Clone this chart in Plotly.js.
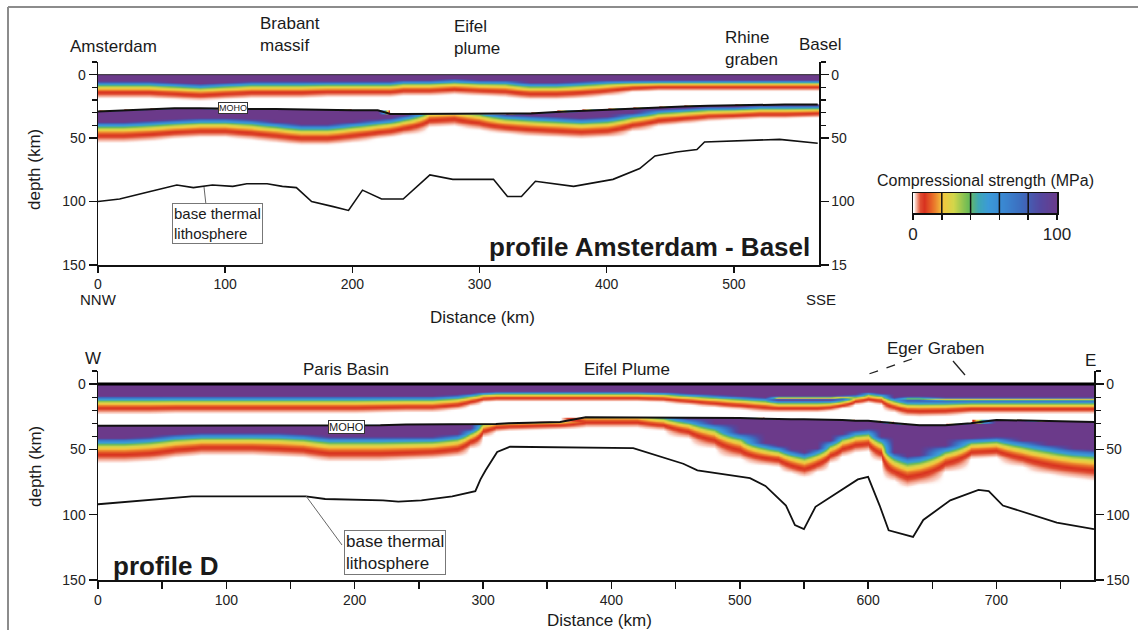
<!DOCTYPE html>
<html>
<head>
<meta charset="utf-8">
<script src="https://cdn.plot.ly/plotly-3.0.1.min.js"></script>
<style>html,body{margin:0;padding:0;background:#fff;}#chart{width:1138px;height:630px;}</style>
</head>
<body>
<div id="chart"></div>
<script>
// ---------- DATA ----------
// Profile Amsterdam - Basel : nodes along the profile (km)
const topDist = [0,20,40,60,80,100,120,140,160,180,200,220,230,240,260,280,300,320,340,360,380,400,420,440,460,480,500,520,540,566];
// depth (km) where the strong (purple) upper-crust layer ends, and where crustal strength fades to zero
const topCrustStrongBase = [5,5,5,6,7,6,5,5,5,5,5,5,5,4,4,3,4,4,6,6,5,4,4,4,4,4,4,4,4,4];
const topCrustZero = [19,19,19,20,21,20,19,19,19,18,18,18,18,17,17,16,17,18,20,20,19,17,14,13,13,13,13,13,13,13];
// Moho depth (km)
const topMoho = [29,28,27,26.5,26.5,27,27,27,27.5,27.5,28,28,31,31,31,31,31,31,30.5,29.5,28.5,27.5,26.5,25.5,25,24.5,24,23.5,23.5,23.5];
// mantle: base of the strong (purple) part and depth of zero strength (km)
const topMantleStrongBase = [37,37,36,35,34,34,35,37,39,39,37,35,34,32,25,24,27,31,32,33,34,33,30,27,26,25,25,24,24,24];
const topMantleZero = [54,54,53,51,50,50,52,54,56,56,54,51,50,48,42,41,44,47,49,50,51,50,45,41,39,37,36,35,35,34];
// base thermal lithosphere
const topLithDist = [0,17,41,62,75,90,106,117,133,145,156,168,185,197,208,223,240,261,279,311,322,333,344,374,405,426,438,455,471,477,536,566];
const topLithDepth = [100,98,92,87,89,87,88,86,86,88,89,100,104,107,91,98,98,79,82.5,82.5,96,96,84,88,82.5,74,64,61,59,53,51,54];

// Profile D
const botDist = [0,20,40,60,80,100,120,140,160,180,200,220,240,260,280,290,300,310,320,340,360,380,400,420,440,460,480,500,520,530,540,550,560,570,580,590,600,610,620,630,640,660,680,700,720,740,760,776];
const botCrustStrongBase = [9,9,9,9,9,9,9,9,9,9,9,9,9,9,8,7,6,5.5,5.5,5.5,5.5,5.5,5.5,5.5,6,7,8,9,10,12,12,12,12,12,11,8,6,7,10,12,12,12,12,12,12,12,12,12];
const botCrustZero = [23.5,23.5,23.5,23,23,23,23,23,23,23,23,22.5,22,22,20,17,14,13.5,13.5,13.5,13.5,13.5,13.5,13.5,14,16,18,20,22,22,22,22,22,21,19,16,14.5,16,22,25,25.5,25,23,23,23,23,23,23];
// depth of a thin weak stripe inside the strong upper crust (Eger Graben), null where absent
const botCrustWeakStripe = [null,null,null,null,null,null,null,null,null,null,null,null,null,null,null,null,null,null,null,null,null,null,null,null,null,null,null,null,null,10.5,10.5,10.5,10.5,10.5,10,null,null,null,null,11,11,11.5,11.5,11.5,11.5,11.5,11.5,11.5];
const botMoho = [32,32,32,32,32,32,32,32,32,32,32,31.5,31,31,31,31,30.5,30.5,30,29.5,29,25.5,25.5,25.5,25.5,26,26,26,26.5,27,27,27,27,27.5,27.5,28,28,29,30,31,31.5,31.5,30,27.5,28,28.5,29,29];
const botMantleStrongBase = [41,41,40,38,37,37,37,37,38,40,40,40,40,40,38,34,27,26,26,25.5,25,20,20,20,23,26,30,37,45,47,50,52,49,43,38,35,34,40,52,55,54,47,41,40,43,46,49,50];
const botMantleZero = [61,61,60,57,55,55,55,56,57,60,60,60,59,58,56,50,41,37,36,35.5,35,34,34,34,36,42,50,58,63,64,69,72,68,61,56,53,52,60,75,80,78,68,58,57,64,70,73,75];
const botLithDist = [0,49,73,103,162,177,222,234,252,276,294,298,302,311,321,417,456,467,492,508,520,536,543,550,559,592,600,609,616,635,643,664,686,694,705,725,747,776];
const botLithDepth = [92,88,86,86,86,88,89,90,89,86,82,73,66,52,48,49,61,66,70,72,78,93,108,111,94,73,71,93,112,117,104,89,81,82,93,99,106,111];

// Colour scale of the legend (MPa)
const legendScale = [0,5,10,15,20,25,30,35,40,45,50,55,60,65,70,75,80,85,90,95,100];
const legendTicks = [0,20,40,60,80,100];
const legendTickText = ['0','','','','','100'];

// ---------- helpers ----------
const W = 1138, H = 630;
const PX = x => x / W, PY = y => 1 - y / H;
const FONT = '"Liberation Sans", Arial, Helvetica, sans-serif';

const depthGrid = [];
for (let d = 0; d <= 90; d += 0.5) depthGrid.push(d);

const K = Math.log(103 / 3);
function decay(z, base, zero) {
  if (z <= base) return 100;
  const v = 103 * Math.exp(-K * (z - base) / (zero - base)) - 3;
  return v > 0 ? v : 0;
}
function buildGrid(cb, cz, moho, mb, mz, stripe) {
  return depthGrid.map(z => cb.map((_, i) => {
    if (z >= moho[i]) return decay(z, mb[i], mz[i]);
    let v = decay(z, cb[i], cz[i]);
    if (stripe && stripe[i] !== null) {
      const t = (z - stripe[i]) / 0.9;
      v = v * (1 - 0.8 * Math.exp(-t * t));
    }
    return v;
  }));
}

const CS = [
  [0, 'rgba(255,255,255,0)'],
  [0.012, 'rgba(248,196,182,0.75)'],
  [0.03, '#ee927a'],
  [0.05, '#df4c31'],
  [0.08, '#d8321f'],
  [0.13, '#e86a28'],
  [0.2, '#f3c63e'],
  [0.28, '#d3d64a'],
  [0.38, '#6dbb55'],
  [0.45, '#3ea7b4'],
  [0.52, '#3b9ad8'],
  [0.62, '#3a88d2'],
  [0.75, '#3c6cbe'],
  [0.88, '#5448a0'],
  [1, '#6b3a8a']
];

const traces = [
  {type:'heatmap', x: topDist, y: depthGrid,
   z: buildGrid(topCrustStrongBase, topCrustZero, topMoho, topMantleStrongBase, topMantleZero, null),
   xaxis:'x', yaxis:'y', colorscale: CS, zmin:0, zmax:100, zsmooth:'best', showscale:false, hoverinfo:'skip'},
  {type:'heatmap', x: botDist, y: depthGrid,
   z: buildGrid(botCrustStrongBase, botCrustZero, botMoho, botMantleStrongBase, botMantleZero, botCrustWeakStripe),
   xaxis:'x2', yaxis:'y2', colorscale: CS, zmin:0, zmax:100, zsmooth:'best', showscale:false, hoverinfo:'skip'},
  {type:'scatter', mode:'lines', x: topDist, y: topMoho, xaxis:'x', yaxis:'y', line:{color:'#111', width:2}, hoverinfo:'skip'},
  {type:'scatter', mode:'lines', x: topLithDist, y: topLithDepth, xaxis:'x', yaxis:'y3', line:{color:'#111', width:1.6}, hoverinfo:'skip'},
  {type:'scatter', mode:'lines', x: botDist, y: botMoho, xaxis:'x2', yaxis:'y2', line:{color:'#111', width:2}, hoverinfo:'skip'},
  {type:'scatter', mode:'lines', x: botLithDist, y: botLithDepth, xaxis:'x2', yaxis:'y4', line:{color:'#111', width:1.8}, hoverinfo:'skip'},
  {type:'heatmap', x: legendScale, y: [0, 1], z: [legendScale, legendScale],
   xaxis:'x3', yaxis:'y5', colorscale: CS, zmin:0, zmax:100, zsmooth:'best', showscale:false, hoverinfo:'skip'}
];

const tickFont = {family: FONT, size: 14, color: '#222'};
const baseAx = {showline:true, linecolor:'#111', linewidth:1.5, ticks:'outside', tickcolor:'#111', tickwidth:1.5,
  showgrid:false, zeroline:false, tickfont: tickFont, fixedrange:true};
function yAx(domain, anchor, extra) {
  const a = Object.assign({}, baseAx, {anchor, range:[150,-10], tickmode:'array', tickvals:[0,50,100,150], ticklen:8,
    minor:{tickmode:'array', tickvals:[-10,10,20,30,40], ticklen:5, tickwidth:1.2, tickcolor:'#111', ticks:'outside'}}, extra || {});
  if (domain) a.domain = domain;
  return a;
}

const layout = {
  width: W, height: H, margin:{l:0,r:0,t:0,b:0}, paper_bgcolor:'#fff', plot_bgcolor:'rgba(0,0,0,0)',
  showlegend:false, font:{family: FONT, color:'#222'},
  xaxis: Object.assign({}, baseAx, {domain:[PX(98), PX(819)], anchor:'y', range:[0,567], tickmode:'array',
    tickvals:[0,100,200,300,400,500], ticklen:6}),
  yaxis: yAx([PY(265), PY(62)], 'x'),
  yaxis3: yAx(null, 'x', {overlaying:'y', side:'right', ticktext:['0','50','100','15']}),
  xaxis2: Object.assign({}, baseAx, {domain:[PX(98), PX(1094)], anchor:'y2', range:[0,776], tickmode:'array',
    tickvals:[0,100,200,300,400,500,600,700], ticklen:7,
    minor:{tickmode:'array', tickvals:[50,150,250,350,450,550,650,750], ticklen:7, tickwidth:1.5, tickcolor:'#111', ticks:'outside'}}),
  yaxis2: yAx([PY(580), PY(371)], 'x2'),
  yaxis4: yAx(null, 'x2', {overlaying:'y2', side:'right', ticktext:['0','50','100','150']}),
  xaxis3: Object.assign({}, baseAx, {domain:[PX(913), PX(1057)], anchor:'y5', range:[0,100], tickmode:'array',
    tickvals: legendTicks, ticktext: legendTickText, ticklen:5, mirror:true, tickfont:{family:FONT, size:17, color:'#222'}}),
  yaxis5: {domain:[PY(213), PY(193)], anchor:'x3', range:[0,1], showline:true, mirror:true, linecolor:'#111', linewidth:1.5,
    showticklabels:false, ticks:'', showgrid:false, zeroline:false, fixedrange:true},
  shapes: [],
  annotations: []
};

// frame of the figure
layout.shapes.push({type:'line', xref:'paper', yref:'paper', x0:PX(8), x1:1, y0:PY(7), y1:PY(7), line:{color:'#8c8c8c', width:2}});
layout.shapes.push({type:'line', xref:'paper', yref:'paper', x0:PX(8), x1:PX(8), y0:PY(7), y1:0, line:{color:'#8c8c8c', width:2}});
// surfaces
layout.shapes.push({type:'line', xref:'x domain', yref:'y', x0:0, x1:1, y0:0, y1:0, line:{color:'#333', width:1}});
layout.shapes.push({type:'line', xref:'x2 domain', yref:'y2', x0:0, x1:1, y0:0, y1:0, line:{color:'#000', width:3}});
// legend dividers
[20,40,60,80].forEach(v => layout.shapes.push({type:'line', xref:'x3', yref:'y5', x0:v, x1:v, y0:0, y1:1, line:{color:'#111', width:1.5}}));
// leader lines
layout.shapes.push({type:'line', xref:'paper', yref:'paper', x0:PX(204), y0:PY(187), x1:PX(206), y1:PY(205), line:{color:'#666', width:1}});
layout.shapes.push({type:'line', xref:'paper', yref:'paper', x0:PX(306), y0:PY(496), x1:PX(342), y1:PY(545), line:{color:'#666', width:1}});
layout.shapes.push({type:'line', xref:'paper', yref:'paper', x0:PX(912), y0:PY(359), x1:PX(863), y1:PY(376), line:{color:'#222', width:1.3, dash:'dash'}});
layout.shapes.push({type:'line', xref:'paper', yref:'paper', x0:PX(953), y0:PY(361), x1:PX(965), y1:PY(375), line:{color:'#222', width:1.3}});

function ann(text, x, y, o) {
  o = o || {};
  layout.annotations.push(Object.assign({text, x:PX(x), y:PY(y), xref:'paper', yref:'paper', showarrow:false,
    xanchor: o.xa || 'center', yanchor:'middle', align: o.align || 'center',
    font:{family:FONT, size:o.size || 17, color:'#1a1a1a'}}, o.extra || {}));
}
// top panel labels
ann('Amsterdam', 113, 47);
ann('Brabant<br>massif', 258, 34, {xa:'left', align:'left'});
ann('Eifel<br>plume', 452, 37, {xa:'left', align:'left'});
ann('Rhine<br>graben', 723, 49, {xa:'left', align:'left'});
ann('Basel', 820, 45);
ann('MOHO', 233, 108, {size:9, extra:{bgcolor:'#fff', bordercolor:'#333', borderwidth:1, borderpad:0}});
ann('base thermal<br>lithosphere', 172, 223, {xa:'left', align:'left', size:15, extra:{bgcolor:'#fff', bordercolor:'#777', borderwidth:1, borderpad:1}});
ann('<b>profile Amsterdam - Basel</b>', 812, 247, {xa:'right', size:26});
ann('NNW', 98, 299, {size:15});
ann('SSE', 821, 299, {size:15});
ann('Distance (km)', 482, 317);
ann('depth (km)', 35, 170, {extra:{textangle:-90}});
ann('Compressional strength (MPa)', 985, 180, {size:16});
// bottom panel labels
ann('W', 93, 358);
ann('E', 1090, 360);
ann('Paris Basin', 346, 369);
ann('Eifel Plume', 627, 369);
ann('Eger Graben', 935, 348);
ann('MOHO', 346, 427, {size:11, extra:{bgcolor:'#fff', bordercolor:'#333', borderwidth:1, borderpad:0}});
ann('base thermal<br>lithosphere', 344, 552, {xa:'left', align:'left', size:17, extra:{bgcolor:'#fff', bordercolor:'#777', borderwidth:1, borderpad:1}});
ann('<b>profile D</b>', 111, 566, {xa:'left', size:26});
ann('Distance (km)', 599, 620);
ann('depth (km)', 35, 467, {extra:{textangle:-90}});

Plotly.newPlot('chart', traces, layout, {staticPlot:true, displayModeBar:false});
</script>
</body>
</html>
